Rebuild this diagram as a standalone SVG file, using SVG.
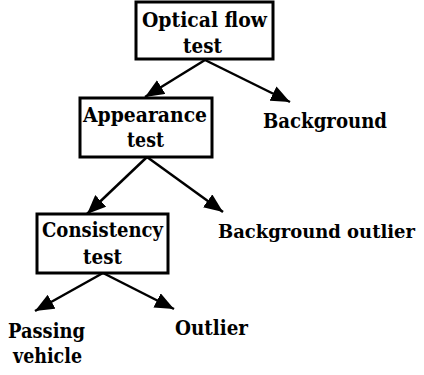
<svg xmlns="http://www.w3.org/2000/svg" width="424" height="375" viewBox="0 0 424 375">
<style>
.box{fill:#fff;stroke:#000;stroke-width:3}
.t{font-family:"DejaVu Serif","Liberation Serif",serif;font-weight:bold;font-size:20px;fill:#000}
.c{stroke:#000;stroke-width:2.5;fill:none}
</style>
<defs>
<marker id="ah" viewBox="0 0 19 16" refX="19" refY="8" markerWidth="19" markerHeight="16" markerUnits="userSpaceOnUse" orient="auto">
<path d="M0,0 L19,8 L0,16 Z" fill="#000"/>
</marker>
</defs>
<rect width="424" height="375" fill="#fff"/>
<g id="connectors">
<line class="c" x1="205" y1="60" x2="145" y2="97" marker-end="url(#ah)"/>
<line class="c" x1="205" y1="60" x2="290" y2="102" marker-end="url(#ah)"/>
<line class="c" x1="147" y1="157" x2="87" y2="214" marker-end="url(#ah)"/>
<line class="c" x1="147" y1="157" x2="223" y2="212" marker-end="url(#ah)"/>
<line class="c" x1="103" y1="273" x2="35" y2="311" marker-end="url(#ah)"/>
<line class="c" x1="103" y1="273" x2="174" y2="309" marker-end="url(#ah)"/>
</g>
<g id="optical">
<rect class="box" x="136" y="2" width="137" height="57"/>
<text class="t" x="142" y="27" textLength="125" lengthAdjust="spacingAndGlyphs">Optical flow</text>
<text class="t" x="183" y="53" textLength="39" lengthAdjust="spacingAndGlyphs">test</text>
</g>
<g id="appearance">
<rect class="box" x="80" y="98" width="132" height="59"/>
<text class="t" x="83" y="122" textLength="124" lengthAdjust="spacingAndGlyphs">Appearance</text>
<text class="t" x="127" y="147" textLength="37" lengthAdjust="spacingAndGlyphs">test</text>
</g>
<g id="consistency">
<rect class="box" x="37" y="214" width="131" height="59"/>
<text class="t" x="42" y="237" textLength="121" lengthAdjust="spacingAndGlyphs">Consistency</text>
<text class="t" x="83" y="264" textLength="39" lengthAdjust="spacingAndGlyphs">test</text>
</g>
<g id="background">
<text class="t" x="263" y="128" textLength="124" lengthAdjust="spacingAndGlyphs">Background</text>
</g>
<g id="bgoutlier">
<text class="t" x="218" y="238" style="font-size:18px" textLength="197" lengthAdjust="spacingAndGlyphs">Background outlier</text>
</g>
<g id="passing">
<text class="t" x="8" y="338" textLength="77" lengthAdjust="spacingAndGlyphs">Passing</text>
<text class="t" x="13" y="363" textLength="69" lengthAdjust="spacingAndGlyphs">vehicle</text>
</g>
<g id="outlier">
<text class="t" x="175" y="335" textLength="73" lengthAdjust="spacingAndGlyphs">Outlier</text>
</g>
</svg>
